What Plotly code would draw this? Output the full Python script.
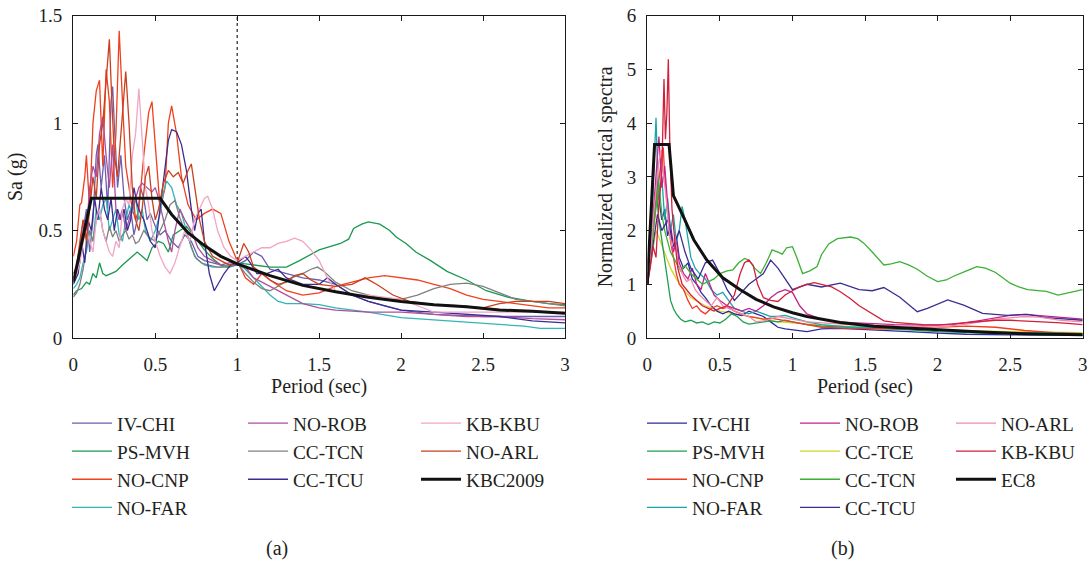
import plotly.graph_objects as go

# ---------------- Panel (a): horizontal Sa (g) ----------------
A_IV_CHI = [(0,0.28),(0.02,0.3),(0.04,0.35),(0.06,0.5),(0.08,0.6),(0.1,0.4),(0.12,0.55),(0.14,0.85),(0.15,0.9),(0.17,0.7),(0.19,0.85),(0.21,0.6),(0.23,1.1),(0.24,1.17),(0.25,1.0),(0.27,0.7),(0.29,0.85),(0.31,0.65),(0.33,0.55),(0.35,0.6),(0.37,0.48),(0.39,0.55),(0.41,0.7),(0.43,0.65),(0.45,0.55),(0.47,0.58),(0.5,0.52),(0.53,0.48),(0.56,0.5),(0.6,0.45),(0.64,0.42),(0.68,0.48),(0.72,0.45),(0.76,0.38),(0.8,0.36),(0.85,0.35),(0.9,0.34),(0.95,0.33),(1.0,0.34),(1.05,0.36),(1.1,0.4),(1.15,0.38),(1.2,0.32),(1.3,0.3),(1.4,0.28),(1.5,0.27),(1.6,0.25),(1.7,0.2),(1.8,0.17),(2.0,0.13),(2.2,0.11),(2.5,0.1),(2.8,0.1),(3.0,0.1)]
A_PS_MVH = [(0,0.2),(0.02,0.22),(0.05,0.23),(0.08,0.26),(0.1,0.25),(0.12,0.3),(0.14,0.28),(0.16,0.35),(0.18,0.3),(0.2,0.29),(0.23,0.3),(0.26,0.31),(0.3,0.34),(0.33,0.36),(0.36,0.38),(0.39,0.4),(0.42,0.38),(0.45,0.36),(0.48,0.42),(0.52,0.45),(0.55,0.44),(0.58,0.4),(0.61,0.48),(0.65,0.5),(0.69,0.52),(0.72,0.49),(0.76,0.45),(0.8,0.41),(0.85,0.37),(0.9,0.34),(0.95,0.33),(1.0,0.35),(1.1,0.34),(1.2,0.33),(1.3,0.33),(1.38,0.36),(1.5,0.41),(1.63,0.44),(1.68,0.46),(1.71,0.51),(1.76,0.53),(1.8,0.54),(1.87,0.53),(1.93,0.5),(1.97,0.47),(2.03,0.44),(2.09,0.4),(2.18,0.36),(2.28,0.31),(2.4,0.27),(2.52,0.22),(2.65,0.19),(2.8,0.17),(2.9,0.16),(3.0,0.155)]
A_NO_CNP = [(0,0.38),(0.02,0.45),(0.04,0.62),(0.05,0.63),(0.07,0.75),(0.08,0.85),(0.1,0.6),(0.12,1.0),(0.14,1.15),(0.16,1.2),(0.18,0.8),(0.2,1.25),(0.22,1.1),(0.24,0.7),(0.26,0.95),(0.28,1.43),(0.3,1.1),(0.32,0.8),(0.34,0.7),(0.36,0.6),(0.38,0.55),(0.4,0.6),(0.43,0.85),(0.46,1.05),(0.48,1.1),(0.5,0.9),(0.53,0.6),(0.56,0.7),(0.58,1.0),(0.6,1.08),(0.63,0.95),(0.66,0.75),(0.7,0.62),(0.75,0.55),(0.8,0.58),(0.85,0.6),(0.9,0.58),(0.95,0.45),(1.0,0.36),(1.05,0.28),(1.1,0.25),(1.15,0.3),(1.2,0.27),(1.3,0.22),(1.4,0.2),(1.5,0.21),(1.6,0.24),(1.7,0.26),(1.8,0.28),(1.9,0.29),(2.0,0.28),(2.1,0.27),(2.2,0.25),(2.3,0.23),(2.4,0.2),(2.5,0.18),(2.6,0.17),(2.7,0.16),(2.8,0.15),(2.9,0.14),(3.0,0.14)]
A_NO_FAR = [(0,0.23),(0.02,0.25),(0.04,0.28),(0.06,0.35),(0.08,0.4),(0.1,0.5),(0.12,0.45),(0.14,0.6),(0.16,0.55),(0.18,0.62),(0.2,0.65),(0.22,0.5),(0.24,0.55),(0.26,0.6),(0.28,0.48),(0.3,0.45),(0.32,0.55),(0.34,0.62),(0.36,0.58),(0.38,0.65),(0.4,0.55),(0.42,0.6),(0.44,0.5),(0.47,0.45),(0.5,0.5),(0.53,0.58),(0.55,0.68),(0.57,0.73),(0.6,0.7),(0.63,0.62),(0.66,0.58),(0.69,0.5),(0.72,0.42),(0.75,0.37),(0.8,0.34),(0.85,0.33),(0.9,0.33),(0.95,0.34),(1.0,0.35),(1.05,0.32),(1.1,0.28),(1.15,0.24),(1.2,0.2),(1.25,0.17),(1.3,0.16),(1.4,0.16),(1.5,0.155),(1.6,0.14),(1.8,0.12),(2.0,0.095),(2.2,0.085),(2.4,0.075),(2.6,0.065),(2.75,0.055),(2.85,0.045),(3.0,0.045)]
A_NO_ROB = [(0,0.27),(0.02,0.3),(0.04,0.42),(0.06,0.55),(0.08,0.5),(0.1,0.7),(0.12,0.8),(0.14,0.75),(0.16,0.95),(0.18,1.03),(0.2,0.85),(0.22,0.7),(0.24,0.9),(0.26,0.6),(0.28,0.55),(0.3,0.6),(0.32,0.5),(0.34,0.55),(0.36,0.6),(0.38,0.65),(0.4,0.7),(0.42,0.72),(0.45,0.7),(0.48,0.68),(0.5,0.7),(0.52,0.65),(0.55,0.55),(0.58,0.45),(0.6,0.4),(0.62,0.5),(0.65,0.6),(0.68,0.55),(0.72,0.5),(0.76,0.42),(0.8,0.38),(0.85,0.36),(0.9,0.34),(0.95,0.35),(1.0,0.35),(1.05,0.33),(1.1,0.28),(1.2,0.24),(1.3,0.2),(1.4,0.16),(1.5,0.14),(1.6,0.13),(1.8,0.12),(2.0,0.12),(2.2,0.11),(2.4,0.1),(2.6,0.1),(2.8,0.09),(3.0,0.085)]
A_CC_TCN = [(0,0.19),(0.02,0.21),(0.04,0.25),(0.06,0.32),(0.08,0.42),(0.1,0.5),(0.12,0.45),(0.14,0.55),(0.16,0.6),(0.18,0.5),(0.2,0.45),(0.22,0.52),(0.24,0.47),(0.26,0.5),(0.28,0.45),(0.3,0.48),(0.32,0.5),(0.34,0.46),(0.36,0.48),(0.38,0.44),(0.4,0.45),(0.43,0.5),(0.46,0.47),(0.5,0.45),(0.53,0.5),(0.56,0.55),(0.59,0.62),(0.62,0.64),(0.65,0.56),(0.68,0.5),(0.71,0.45),(0.74,0.38),(0.78,0.35),(0.82,0.34),(0.88,0.33),(0.94,0.33),(1.0,0.35),(1.05,0.3),(1.1,0.26),(1.15,0.23),(1.2,0.22),(1.27,0.25),(1.33,0.28),(1.4,0.3),(1.45,0.32),(1.49,0.33),(1.53,0.31),(1.6,0.26),(1.7,0.22),(1.8,0.2),(1.9,0.18),(2.0,0.18),(2.1,0.2),(2.2,0.23),(2.3,0.25),(2.4,0.255),(2.5,0.24),(2.6,0.21),(2.7,0.18),(2.8,0.17),(2.9,0.16),(3.0,0.15)]
A_CC_TCU = [(0,0.25),(0.03,0.3),(0.05,0.45),(0.07,0.35),(0.09,0.55),(0.11,0.5),(0.13,0.65),(0.15,0.55),(0.17,0.7),(0.19,0.6),(0.21,0.55),(0.23,0.65),(0.25,0.5),(0.27,0.6),(0.29,0.55),(0.31,0.6),(0.33,0.5),(0.35,0.55),(0.37,0.7),(0.39,0.62),(0.41,0.58),(0.43,0.55),(0.45,0.5),(0.47,0.45),(0.5,0.42),(0.52,0.55),(0.55,0.75),(0.58,0.92),(0.6,0.97),(0.63,0.96),(0.66,0.9),(0.69,0.78),(0.72,0.6),(0.74,0.5),(0.76,0.58),(0.78,0.6),(0.8,0.45),(0.83,0.3),(0.86,0.22),(0.89,0.26),(0.92,0.3),(0.96,0.34),(1.0,0.35),(1.05,0.38),(1.08,0.35),(1.12,0.3),(1.18,0.3),(1.25,0.32),(1.3,0.28),(1.4,0.25),(1.5,0.25),(1.55,0.28),(1.6,0.25),(1.7,0.2),(1.8,0.17),(1.9,0.15),(2.0,0.13),(2.2,0.12),(2.4,0.11),(2.6,0.1),(2.8,0.08),(3.0,0.07)]
A_KB_KBU = [(0,0.27),(0.02,0.3),(0.04,0.35),(0.06,0.45),(0.08,0.5),(0.1,0.45),(0.12,0.4),(0.14,0.55),(0.16,0.6),(0.18,0.5),(0.2,0.45),(0.22,0.4),(0.24,0.38),(0.26,0.45),(0.28,0.42),(0.3,0.6),(0.32,0.65),(0.34,0.62),(0.36,0.85),(0.38,0.95),(0.4,1.16),(0.42,0.95),(0.44,0.7),(0.46,0.62),(0.48,0.5),(0.5,0.45),(0.53,0.38),(0.56,0.33),(0.59,0.3),(0.62,0.35),(0.65,0.42),(0.68,0.5),(0.71,0.45),(0.74,0.55),(0.77,0.6),(0.8,0.65),(0.82,0.66),(0.85,0.6),(0.88,0.5),(0.92,0.42),(0.96,0.38),(1.0,0.36),(1.05,0.38),(1.1,0.4),(1.15,0.42),(1.2,0.42),(1.25,0.44),(1.3,0.45),(1.35,0.465),(1.4,0.45),(1.45,0.41),(1.5,0.36),(1.55,0.28),(1.6,0.22),(1.7,0.2),(1.8,0.2),(1.9,0.19),(2.0,0.18),(2.1,0.15),(2.2,0.12),(2.4,0.12),(2.6,0.12),(2.8,0.12),(3.0,0.12)]
A_NO_ARL = [(0,0.3),(0.02,0.33),(0.04,0.45),(0.06,0.55),(0.08,0.45),(0.1,0.6),(0.12,0.75),(0.14,0.65),(0.16,0.9),(0.18,1.0),(0.2,1.2),(0.22,1.39),(0.23,1.2),(0.25,0.85),(0.27,0.75),(0.29,0.95),(0.31,1.15),(0.32,1.24),(0.34,1.0),(0.36,0.7),(0.38,0.55),(0.4,0.5),(0.42,0.6),(0.44,0.75),(0.46,0.8),(0.48,0.65),(0.5,0.55),(0.52,0.6),(0.55,0.72),(0.58,0.78),(0.61,0.75),(0.64,0.77),(0.67,0.72),(0.7,0.78),(0.72,0.81),(0.74,0.7),(0.77,0.55),(0.8,0.45),(0.85,0.38),(0.9,0.36),(0.95,0.34),(1.0,0.35),(1.02,0.4),(1.04,0.44),(1.07,0.4),(1.1,0.33),(1.15,0.3),(1.2,0.27),(1.25,0.25),(1.3,0.26),(1.35,0.29),(1.4,0.3),(1.45,0.27),(1.5,0.25),(1.6,0.24),(1.7,0.25),(1.78,0.28),(1.85,0.25),(1.95,0.2),(2.05,0.17),(2.2,0.155),(2.35,0.15),(2.5,0.14),(2.6,0.16),(2.7,0.17),(2.8,0.17),(2.9,0.17),(3.0,0.16)]
A_KBC2009 = [(0,0.26),(0.11,0.65),(0.53,0.65),(0.6,0.575),(0.7,0.49),(0.8,0.43),(0.9,0.38),(1.0,0.345),(1.2,0.29),(1.4,0.245),(1.6,0.215),(1.8,0.19),(2.0,0.17),(2.2,0.155),(2.4,0.145),(2.6,0.13),(2.8,0.125),(3.0,0.115)]

# ---------------- Panel (b): normalized vertical spectra ----------------
B_IV_CHI = [(0,1.0),(0.02,1.5),(0.04,2.0),(0.06,2.6),(0.07,3.05),(0.08,2.6),(0.1,2.2),(0.12,2.4),(0.14,1.9),(0.16,2.1),(0.18,1.7),(0.2,1.9),(0.22,1.5),(0.25,1.3),(0.28,1.4),(0.31,1.1),(0.34,1.0),(0.37,0.85),(0.4,0.75),(0.44,0.6),(0.48,0.5),(0.52,0.45),(0.56,0.5),(0.6,0.45),(0.65,0.42),(0.7,0.5),(0.75,0.45),(0.8,0.4),(0.85,0.3),(0.9,0.2),(0.95,0.17),(1.0,0.15),(1.05,0.13),(1.1,0.12),(1.2,0.17),(1.3,0.18),(1.4,0.17),(1.6,0.15),(1.8,0.12),(2.0,0.09),(2.2,0.07),(2.5,0.06),(2.8,0.05),(3.0,0.05)]
B_PS_MVH = [(0,1.0),(0.02,1.6),(0.04,2.3),(0.06,2.8),(0.08,2.2),(0.1,1.8),(0.12,1.5),(0.14,1.0),(0.16,0.7),(0.18,0.55),(0.2,0.45),(0.23,0.35),(0.26,0.3),(0.3,0.33),(0.34,0.28),(0.38,0.3),(0.42,0.25),(0.46,0.3),(0.5,0.28),(0.54,0.35),(0.58,0.45),(0.62,0.4),(0.66,0.3),(0.7,0.26),(0.75,0.28),(0.8,0.3),(0.85,0.32),(0.9,0.3),(0.95,0.33),(1.0,0.3),(1.1,0.25),(1.2,0.22),(1.4,0.2),(1.6,0.18),(1.8,0.15),(2.0,0.12),(2.2,0.1),(2.4,0.08),(2.6,0.06),(2.8,0.05),(3.0,0.05)]
B_NO_CNP = [(0,1.0),(0.02,1.4),(0.04,2.0),(0.06,2.5),(0.08,3.0),(0.1,3.4),(0.11,3.55),(0.12,3.0),(0.14,2.4),(0.16,1.8),(0.18,1.5),(0.2,1.2),(0.22,1.0),(0.25,0.9),(0.28,0.7),(0.31,0.55),(0.34,0.6),(0.37,0.5),(0.4,0.45),(0.44,0.55),(0.48,0.6),(0.52,0.55),(0.56,0.58),(0.6,0.5),(0.65,0.45),(0.7,0.4),(0.75,0.38),(0.8,0.35),(0.85,0.37),(0.9,0.35),(0.95,0.33),(1.0,0.3),(1.1,0.25),(1.2,0.2),(1.4,0.18),(1.6,0.17),(1.8,0.18),(2.0,0.2),(2.2,0.22),(2.4,0.2),(2.6,0.14),(2.8,0.1),(3.0,0.08)]
B_NO_FAR = [(0,1.0),(0.02,1.5),(0.04,2.8),(0.05,3.5),(0.06,4.1),(0.07,3.2),(0.08,2.6),(0.1,3.0),(0.12,2.2),(0.14,2.6),(0.16,2.0),(0.18,2.3),(0.2,1.8),(0.22,2.0),(0.24,2.45),(0.26,2.2),(0.28,1.8),(0.3,1.5),(0.33,1.3),(0.36,1.2),(0.4,1.1),(0.44,0.9),(0.48,0.8),(0.52,0.85),(0.56,0.7),(0.6,0.55),(0.65,0.5),(0.7,0.45),(0.75,0.5),(0.8,0.45),(0.85,0.4),(0.9,0.4),(0.95,0.42),(1.0,0.38),(1.1,0.3),(1.2,0.25),(1.4,0.2),(1.6,0.2),(1.8,0.18),(2.0,0.15),(2.2,0.13),(2.5,0.1),(2.8,0.09),(3.0,0.08)]
B_NO_ROB = [(0,1.0),(0.02,1.5),(0.04,2.3),(0.06,3.0),(0.08,3.75),(0.09,3.3),(0.1,2.8),(0.12,3.2),(0.14,2.5),(0.16,2.0),(0.18,1.6),(0.2,1.8),(0.22,1.4),(0.25,1.2),(0.28,1.1),(0.31,1.3),(0.34,1.0),(0.37,0.9),(0.4,1.2),(0.43,1.0),(0.46,0.8),(0.5,0.7),(0.55,0.6),(0.6,0.55),(0.65,0.5),(0.7,0.55),(0.75,0.5),(0.8,0.6),(0.85,0.75),(0.9,0.85),(0.95,0.9),(1.0,0.85),(1.05,0.6),(1.1,0.45),(1.2,0.35),(1.3,0.3),(1.5,0.27),(1.7,0.25),(1.9,0.24),(2.1,0.25),(2.3,0.33),(2.5,0.42),(2.6,0.44),(2.7,0.42),(2.85,0.38),(3.0,0.35)]
B_CC_TCE = [(0,1.0),(0.03,1.5),(0.06,2.0),(0.09,1.8),(0.12,1.6),(0.16,1.3),(0.2,1.1),(0.25,0.9),(0.3,0.75),(0.4,0.6),(0.5,0.5),(0.6,0.45),(0.7,0.4),(0.8,0.35),(0.9,0.3),(1.0,0.28),(1.2,0.24),(1.5,0.2),(2.0,0.15),(2.5,0.12),(3.0,0.1)]
B_CC_TCN = [(0,1.0),(0.02,1.5),(0.04,2.0),(0.06,2.5),(0.08,2.9),(0.1,2.3),(0.12,2.0),(0.14,1.8),(0.16,1.6),(0.18,1.5),(0.2,1.4),(0.23,1.25),(0.26,1.35),(0.3,1.2),(0.34,1.1),(0.38,1.0),(0.42,1.05),(0.46,1.1),(0.5,1.2),(0.55,1.25),(0.59,1.27),(0.63,1.4),(0.67,1.48),(0.7,1.45),(0.74,1.3),(0.78,1.2),(0.82,1.4),(0.86,1.64),(0.9,1.6),(0.93,1.56),(0.96,1.68),(1.0,1.7),(1.03,1.5),(1.07,1.2),(1.12,1.25),(1.17,1.33),(1.2,1.55),(1.25,1.75),(1.31,1.85),(1.4,1.88),(1.45,1.85),(1.49,1.77),(1.55,1.6),(1.63,1.36),(1.68,1.38),(1.74,1.42),(1.8,1.36),(1.86,1.28),(1.93,1.15),(2.0,1.05),(2.06,1.08),(2.11,1.15),(2.2,1.25),(2.27,1.33),(2.33,1.3),(2.4,1.22),(2.5,1.02),(2.56,0.95),(2.62,0.9),(2.75,0.87),(2.83,0.8),(2.9,0.84),(3.0,0.9)]
B_CC_TCU = [(0,1.0),(0.04,1.8),(0.07,2.3),(0.1,2.0),(0.14,2.2),(0.18,1.7),(0.22,2.0),(0.26,1.6),(0.3,1.3),(0.35,1.1),(0.4,1.4),(0.45,1.45),(0.5,1.2),(0.55,0.9),(0.6,0.7),(0.65,0.85),(0.7,1.0),(0.75,1.1),(0.8,1.2),(0.85,1.45),(0.9,1.3),(0.95,1.1),(1.0,0.9),(1.1,1.0),(1.2,0.95),(1.33,1.02),(1.46,0.9),(1.55,0.88),(1.63,0.94),(1.74,0.76),(1.86,0.49),(1.93,0.55),(2.07,0.71),(2.18,0.61),(2.31,0.46),(2.48,0.42),(2.62,0.44),(2.75,0.38),(3.0,0.33)]
B_NO_ARL = [(0,1.0),(0.02,1.5),(0.04,2.2),(0.06,2.8),(0.08,3.3),(0.1,3.5),(0.11,3.1),(0.13,2.6),(0.15,2.0),(0.17,1.7),(0.19,1.9),(0.21,1.4),(0.24,1.2),(0.27,1.05),(0.3,1.1),(0.33,0.9),(0.36,0.8),(0.4,0.7),(0.44,0.6),(0.48,0.75),(0.52,0.6),(0.56,0.55),(0.6,0.5),(0.65,0.45),(0.7,0.4),(0.75,0.3),(0.8,0.32),(0.85,0.35),(0.9,0.4),(0.95,0.38),(1.0,0.35),(1.1,0.3),(1.2,0.28),(1.4,0.25),(1.6,0.24),(1.8,0.22),(2.0,0.2),(2.2,0.26),(2.4,0.35),(2.6,0.4),(2.7,0.39),(2.85,0.33),(3.0,0.3)]
B_KB_KBU = [(0,1.0),(0.02,1.3),(0.04,1.7),(0.06,1.5),(0.08,2.5),(0.1,3.1),(0.115,4.82),(0.125,3.7),(0.135,4.2),(0.145,5.19),(0.155,3.6),(0.17,2.4),(0.19,1.8),(0.21,1.3),(0.24,1.0),(0.27,0.9),(0.3,0.8),(0.34,0.7),(0.38,0.6),(0.42,0.55),(0.46,0.5),(0.5,0.55),(0.55,0.6),(0.6,0.8),(0.64,1.2),(0.67,1.4),(0.7,1.45),(0.73,1.35),(0.76,1.0),(0.8,0.75),(0.85,0.7),(0.9,0.68),(0.95,0.8),(1.0,0.88),(1.05,0.95),(1.1,1.0),(1.15,1.03),(1.2,1.0),(1.27,0.95),(1.33,0.86),(1.4,0.73),(1.46,0.6),(1.55,0.45),(1.63,0.32),(1.7,0.29),(1.78,0.27),(1.9,0.25),(2.0,0.24),(2.1,0.26),(2.25,0.3),(2.4,0.33),(2.5,0.33),(2.6,0.32),(2.72,0.3),(2.85,0.28),(3.0,0.25)]
B_EC8 = [(0,1.0),(0.05,3.6),(0.15,3.6),(0.18,2.65),(0.25,2.25),(0.32,1.83),(0.41,1.45),(0.52,1.12),(0.64,0.9),(0.75,0.72),(0.87,0.58),(1.0,0.47),(1.1,0.4),(1.33,0.29),(1.56,0.22),(1.8,0.18),(2.0,0.15),(2.3,0.11),(2.6,0.08),(3.0,0.06)]

X_TICKS = [0, 0.5, 1, 1.5, 2, 2.5, 3]
X_TICKTEXT = ["0", "0.5", "1", "1.5", "2", "2.5", "3"]
YA_TICKS = [0, 0.5, 1, 1.5]
YA_TICKTEXT = ["0", "0.5", "1", "1.5"]
YB_TICKS = [0, 1, 2, 3, 4, 5, 6]

# (name, data, colour, width, legend column)
PANEL_A = [
    ("IV-CHI", A_IV_CHI, "#6b5fae", 1.3, "legend"),
    ("PS-MVH", A_PS_MVH, "#1a9850", 1.3, "legend"),
    ("NO-CNP", A_NO_CNP, "#f0401e", 1.3, "legend"),
    ("NO-FAR", A_NO_FAR, "#33b5b5", 1.3, "legend"),
    ("NO-ROB", A_NO_ROB, "#b04e9e", 1.3, "legend2"),
    ("CC-TCN", A_CC_TCN, "#808080", 1.3, "legend2"),
    ("CC-TCU", A_CC_TCU, "#3a2c92", 1.3, "legend2"),
    ("KB-KBU", A_KB_KBU, "#f2a4c4", 1.3, "legend3"),
    ("NO-ARL", A_NO_ARL, "#c8401e", 1.3, "legend3"),
    ("KBC2009", A_KBC2009, "#111111", 3.0, "legend3"),
]
PANEL_B = [
    ("CC-TCE", B_CC_TCE, "#d4d42a", 1.3, "legend5"),
    ("IV-CHI", B_IV_CHI, "#2b2b9a", 1.3, "legend4"),
    ("PS-MVH", B_PS_MVH, "#1f9e4f", 1.3, "legend4"),
    ("NO-CNP", B_NO_CNP, "#f03c24", 1.3, "legend4"),
    ("NO-FAR", B_NO_FAR, "#1aa5aa", 1.3, "legend4"),
    ("NO-ROB", B_NO_ROB, "#c2228c", 1.3, "legend5"),
    ("CC-TCN", B_CC_TCN, "#3cb034", 1.3, "legend5"),
    ("CC-TCU", B_CC_TCU, "#3c2d92", 1.3, "legend5"),
    ("NO-ARL", B_NO_ARL, "#f28aaa", 1.3, "legend6"),
    ("KB-KBU", B_KB_KBU, "#d21f3c", 1.3, "legend6"),
    ("EC8", B_EC8, "#111111", 3.0, "legend6"),
]
LEGEND_RANK_B = {"IV-CHI": 1, "PS-MVH": 2, "NO-CNP": 3, "NO-FAR": 4, "NO-ROB": 1, "CC-TCE": 2,
                 "CC-TCN": 3, "CC-TCU": 4, "NO-ARL": 1, "KB-KBU": 2, "EC8": 3}

FONT = "Liberation Serif"
TXT = "#231f20"
W, H = 1090, 563

fig = go.Figure()
for i, (name, data, col, wd, lg) in enumerate(PANEL_A):
    fig.add_trace(go.Scatter(x=[p[0] for p in data], y=[p[1] for p in data], mode="lines",
                             name=name, line=dict(color=col, width=wd), xaxis="x", yaxis="y",
                             legend=lg, legendrank=i))
for name, data, col, wd, lg in PANEL_B:
    fig.add_trace(go.Scatter(x=[p[0] for p in data], y=[p[1] for p in data], mode="lines",
                             name=name, line=dict(color=col, width=wd), xaxis="x2", yaxis="y2",
                             legend=lg, legendrank=LEGEND_RANK_B[name]))

def ax(**kw):
    d = dict(showline=True, linecolor="#1a1a1a", linewidth=1.3, mirror="ticks",
             ticks="inside", ticklen=5, tickwidth=1.2, tickcolor="#1a1a1a",
             showgrid=False, zeroline=False, automargin=False,
             tickfont=dict(family=FONT, size=19, color=TXT))
    d.update(kw)
    return d

ydom = [1 - 338 / H, 1 - 15.7 / H]
fig.update_layout(
    width=W, height=H, margin=dict(l=0, r=0, t=0, b=0, autoexpand=False),
    paper_bgcolor="white", plot_bgcolor="white",
    font=dict(family=FONT, size=20, color=TXT),
    xaxis=ax(domain=[73.3 / W, 565 / W], range=[0, 3], anchor="y",
             tickvals=X_TICKS, ticktext=X_TICKTEXT, ticklabelstandoff=9,
             title=dict(text="Period (sec)", font=dict(family=FONT, size=20, color=TXT), standoff=3)),
    yaxis=ax(domain=ydom, range=[0, 1.5], anchor="x",
             tickvals=YA_TICKS, ticktext=YA_TICKTEXT, ticklabelstandoff=6,
             title=dict(text="Sa (g)", font=dict(family=FONT, size=20, color=TXT), standoff=10)),
    xaxis2=ax(domain=[647.3 / W, 1082.7 / W], range=[0, 3], anchor="y2",
              tickvals=X_TICKS, ticktext=X_TICKTEXT, ticklabelstandoff=9,
              title=dict(text="Period (sec)", font=dict(family=FONT, size=20, color=TXT), standoff=3)),
    yaxis2=ax(domain=ydom, range=[0, 6], anchor="x2",
              tickvals=YB_TICKS, ticklabelstandoff=6,
              title=dict(text="Normalized vertical spectra", font=dict(family=FONT, size=20, color=TXT), standoff=8)),
    shapes=[dict(type="line", xref="x", yref="y", x0=1, x1=1, y0=0, y1=1.5,
                 line=dict(color="#222222", width=1.2, dash="dot"), layer="below")],
    annotations=[
        dict(text="(a)", x=277.5 / W, y=1 - 548 / H, xref="paper", yref="paper", showarrow=False,
             xanchor="center", yanchor="middle", font=dict(family=FONT, size=20, color=TXT)),
        dict(text="(b)", x=842.5 / W, y=1 - 548 / H, xref="paper", yref="paper", showarrow=False,
             xanchor="center", yanchor="middle", font=dict(family=FONT, size=20, color=TXT)),
    ],
)

leg_font = dict(family=FONT, size=19.3, color=TXT)
leg_y = 1 - 404 / H
for key, xpix in [("legend", 67), ("legend2", 243), ("legend3", 416),
                  ("legend4", 642), ("legend5", 795), ("legend6", 951)]:
    fig.update_layout({key: dict(x=xpix / W, y=leg_y, xanchor="left", yanchor="top",
                                 orientation="v", font=leg_font, bgcolor="rgba(0,0,0,0)",
                                 tracegroupgap=0, itemwidth=40, traceorder="normal")})

fig.write_html("out.html", post_script="document.body.style.margin='0';",
               config={"displayModeBar": False})
